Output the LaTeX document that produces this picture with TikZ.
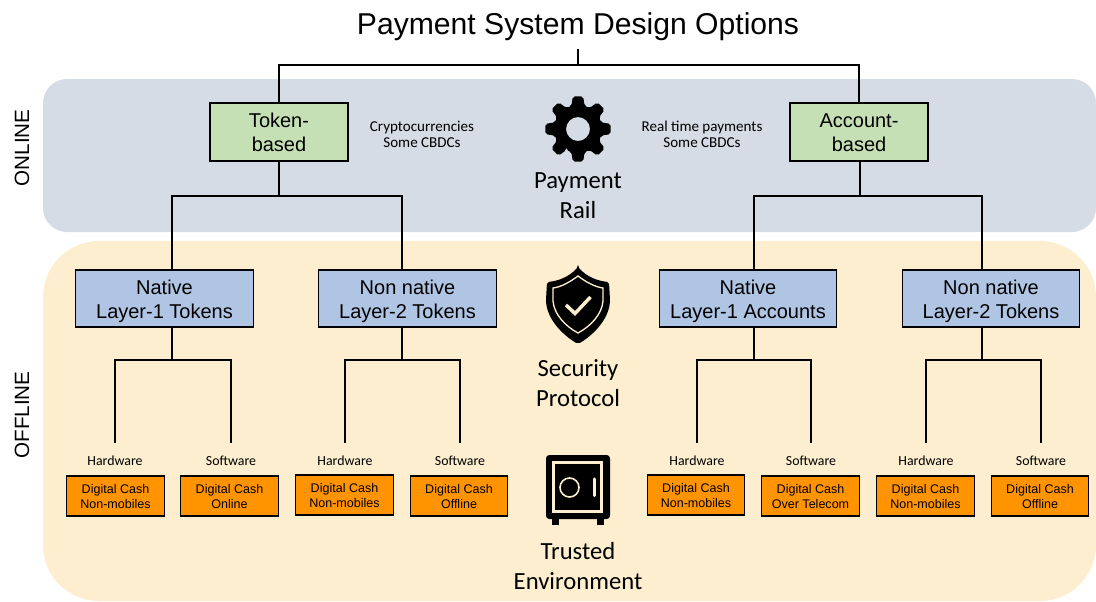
\documentclass[tikz,border=0pt]{standalone}
\usepackage{fontspec}
\setmainfont{Liberation Sans}
\newfontfamily\calibrifont{Carlito}
\definecolor{onlineband}{RGB}{214,220,229}
\definecolor{offlineband}{RGB}{252,238,207}
\definecolor{railgreen}{RGB}{197,224,180}
\definecolor{layerblue}{RGB}{176,197,228}
\definecolor{cashorange}{RGB}{255,147,0}
\newcommand{\railgap}{\rule{0pt}{11.5pt}}
\newcommand{\layergap}{\rule{0pt}{15.5pt}}
\newcommand{\cashgap}{\rule{0pt}{7pt}}
\tikzset{%
    wire/.style={draw=black,line width=1.5pt},
    railbox/.style={draw=black,line width=0.9pt,fill=railgreen,minimum width=103.5pt,minimum height=43.5pt,inner sep=0pt,align=center,font=\fontsize{15}{18}\selectfont},
    layerbox/.style={draw=black,line width=0.9pt,fill=layerblue,minimum width=133pt,minimum height=42.75pt,inner sep=0pt,align=center,font=\fontsize{15}{18}\selectfont},
    cashbox/.style={draw=black,line width=0.9pt,fill=cashorange,minimum width=73pt,minimum height=30pt,inner sep=0pt,align=center,font=\fontsize{9.4}{11.25}\selectfont},
    slotlabel/.style={inner sep=0pt,minimum height=27pt,font=\calibrifont\fontsize{10.4}{12}\selectfont},
    sidenote/.style={inner sep=0pt,align=center,font=\calibrifont\fontsize{11.3}{12}\selectfont},
    iconlabel/.style={inner sep=0pt,align=center,font=\calibrifont\fontsize{18.5}{22.5}\selectfont},
    bandlabel/.style={inner sep=0pt,rotate=90,font=\fontsize{15.5}{18}\selectfont}
}
\begin{document}
\begin{tikzpicture}[x=0.75pt,y=-0.75pt]
    \useasboundingbox (0,0) rectangle (1096,601);
    \fill[onlineband,rounded corners=18pt] (43,79) rectangle (1096,232);
    \fill[offlineband,rounded corners=42pt] (43,241) rectangle (1096,601);
    \node[bandlabel] (online) at (22,148) {ONLINE};
    \node[bandlabel] (offline) at (22,415) {OFFLINE};
    \node[inner sep=0pt,minimum height=33pt,font=\fontsize{22.6}{27}\selectfont] (title) at (578,27) {Payment System Design Options};
    \node[railbox] (tokenbox) at (279,132) {\railgap Token-\\based};
    \node[railbox] (accountbox) at (859,132) {\railgap Account-\\based};
    \node[sidenote] (tokennote) at (422,134) {Cryptocurrencies\\Some CBDCs};
    \node[sidenote] (accountnote) at (702,134) {Real time payments\\Some CBDCs};
    \node[layerbox] (nativetoken) at (164.5,298.5) {\layergap Native\\Layer-1 Tokens};
    \node[layerbox] (othertoken) at (407.5,298.5) {\layergap Non native\\Layer-2 Tokens};
    \node[layerbox] (nativeaccount) at (748,298.5) {\layergap Native\\Layer-1 Accounts};
    \node[layerbox] (otheraccount) at (991,298.5) {\layergap Non native\\Layer-2 Tokens};
    \node[iconlabel] (raillabel) at (578,196) {Payment\\Rail};
    \node[iconlabel] (securitylabel) at (578,383) {Security\\Protocol};
    \node[iconlabel] (trustlabel) at (578,566) {Trusted\\Environment};
    \coordinate (rootbar) at (578,65);
    \draw[wire] (title.south) -- (rootbar);
    \draw[wire] (tokenbox.north) |- (rootbar) -| (accountbox.north);
    \coordinate (tokenbar) at (279,196);
    \coordinate (accountbar) at (860,196);
    \coordinate (nativetokentop) at (172,270);
    \coordinate (othertokentop) at (402,270);
    \coordinate (nativeaccounttop) at (754,270);
    \coordinate (otheraccounttop) at (982,270);
    \draw[wire] (tokenbox.south) -- (tokenbar);
    \draw[wire] (accountbox.south-|accountbar) -- (accountbar);
    \draw[wire] (nativetokentop) |- (tokenbar) -| (othertokentop);
    \draw[wire] (nativeaccounttop) |- (accountbar) -| (otheraccounttop);
    \coordinate (abar) at (172,360);
    \coordinate (bbar) at (402,360);
    \coordinate (cbar) at (754,360);
    \coordinate (dbar) at (982,360);
    \foreach \n/\up/\xl/\xr in {a/nativetoken/115/231,b/othertoken/345/460,c/nativeaccount/697/811,d/otheraccount/926/1041}{
        \node[slotlabel] (\n hw) at (\xl,461) {Hardware};
        \node[slotlabel] (\n sw) at (\xr,461) {Software};
        \draw[wire] (\up.south-|\n bar) -- (\n bar);
        \draw[wire] (\n hw.north) |- (\n bar) -| (\n sw.north);
    }
    \node[cashbox] (cashahw) at (115.5,496) {\cashgap Digital Cash\\Non-mobiles};
    \node[cashbox] (cashasw) at (229.5,496) {\cashgap Digital Cash\\Online};
    \node[cashbox] (cashbhw) at (344.5,495) {\cashgap Digital Cash\\Non-mobiles};
    \node[cashbox] (cashbsw) at (459,496) {\cashgap Digital Cash\\Offline};
    \node[cashbox] (cashchw) at (696,495) {\cashgap Digital Cash\\Non-mobiles};
    \node[cashbox] (cashcsw) at (810.5,496) {\cashgap Digital Cash\\Over Telecom};
    \node[cashbox] (cashdhw) at (925.5,496) {\cashgap Digital Cash\\Non-mobiles};
    \node[cashbox] (cashdsw) at (1040,496) {\cashgap Digital Cash\\Offline};
    \begin{scope}[shift={(578,129)}]
    \fill[black,even odd rule,rounded corners=1.5pt] (-241:24)
        \foreach \a in {-225,-180,-135,-90,-45,0,45,90}{ -- (\a-16:24) -- (\a-9:33) -- (\a+9:33) -- (\a+16:24)}
        -- cycle (0,0) circle (12);
    \end{scope}
    \fill[black,rounded corners=1.5pt] (578,267) .. controls (587,277) and (598,281) .. (609,282) -- (610,300) .. controls (609,318) and (595,334) .. (578,344) .. controls (561,334) and (547,318) .. (546,300) -- (547,282) .. controls (558,281) and (569,277) .. cycle;
    \draw[offlineband,line width=1pt] (578,276) .. controls (586,282) and (595,287) .. (603,288) -- (603,301) .. controls (602,314) and (591,326) .. (578,333) .. controls (565,326) and (554,314) .. (553,301) -- (553,288) .. controls (561,287) and (570,282) .. cycle;
    \draw[offlineband,line width=2.6pt] (566,305) -- (575,313.5) -- (590.5,297);
    \fill[black] (552,515) rectangle (559,525);
    \fill[black] (597,515) rectangle (604,525);
    \fill[black,rounded corners=2.5pt] (546,455) rectangle (610,519);
    \draw[offlineband,line width=2.6pt] (553.4,462.5) rectangle (601.6,511.3);
    \draw[offlineband,line width=1.2pt] (569.5,487.5) circle (9.5);
    \draw[offlineband,line width=2.4pt,line cap=round] (594.7,479) -- (594.7,495.5);
\end{tikzpicture}
\end{document}
